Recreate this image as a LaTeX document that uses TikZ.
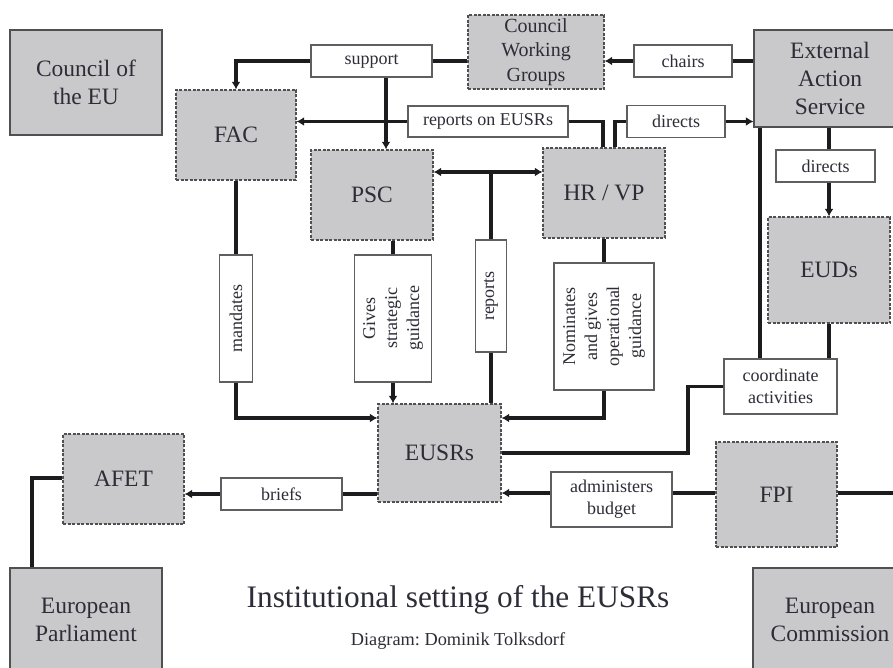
\documentclass[tikz,border=0pt]{standalone}
\usepackage{fontspec}
\setmainfont{Liberation Serif}
\usetikzlibrary{arrows.meta}
\definecolor{boxfill}{RGB}{201,201,203}
\definecolor{boxline}{RGB}{80,80,82}
\definecolor{lblline}{RGB}{95,95,97}
\definecolor{lncol}{RGB}{28,28,30}
\definecolor{txt}{RGB}{45,45,55}
\frenchspacing
\begin{document}
\begin{tikzpicture}[x=1pt,y=-1pt,
  base/.style={fill=boxfill,draw=boxline,line width=1.3pt,inner sep=0pt,align=center,text=txt,font=\fontsize{23.5}{28}\selectfont},
  solidbox/.style={base},
  dashbox/.style={base,dash pattern=on 3pt off 1.5pt},
  lbl/.style={fill=white,draw=lblline,line width=1.1pt,inner sep=0pt,align=center,text=txt,font=\fontsize{18}{22}\selectfont},
  conn/.style={draw=lncol,line width=3.1pt},
  arr/.style={-{Latex[length=7.5pt,width=9pt]}},
  arrboth/.style={{Latex[length=7.5pt,width=9pt]}-{Latex[length=7.5pt,width=9pt]}},
]
\fill[white] (0,0) rectangle (893,668);
\useasboundingbox (0,0) rectangle (893,668);

% main boxes
\node[solidbox,minimum width=152pt,minimum height=105pt] (cou) at (86,82.5) {Council of\\the EU};
\node[dashbox,minimum width=120pt,minimum height=90pt] (fac) at (236,135) {FAC};
\node[dashbox,minimum width=136pt,minimum height=74pt,font=\fontsize{20}{24.5}\selectfont] (cwg) at (536,52) {Council\\Working\\Groups};
\node[solidbox,minimum width=152pt,minimum height=97pt] (eas) at (830,78.5) {External\\Action\\Service};
\node[dashbox,minimum width=122pt,minimum height=90pt] (psc) at (372,195) {PSC};
\node[dashbox,minimum width=122pt,minimum height=90pt] (hrvp) at (604,193) {HR / VP};
\node[dashbox,minimum width=122pt,minimum height=106pt] (euds) at (829,270) {EUDs};
\node[dashbox,minimum width=123pt,minimum height=98pt] (eusrs) at (439.5,453) {EUSRs};
\node[dashbox,minimum width=121pt,minimum height=90pt] (afet) at (123.5,479) {AFET};
\node[dashbox,minimum width=121pt,minimum height=105pt] (fpi) at (776.5,494.5) {FPI};
\node[solidbox,minimum width=152pt,minimum height=104pt] (ep) at (86,620) {European\\Parliament};
\node[solidbox,minimum width=154pt,minimum height=104pt] (ec) at (830,620) {European\\Commission};

% labels
\node[lbl,minimum width=121pt,minimum height=32pt] (sup) at (371.5,61) {support};
\node[lbl,minimum width=98pt,minimum height=32pt] (chairs) at (683,61) {chairs};
\node[lbl,minimum width=160pt,minimum height=31pt] (roe) at (488,121.5) {reports on EUSRs};
\node[lbl,minimum width=98pt,minimum height=32pt] (dir1) at (676,121.5) {directs};
\node[lbl,minimum width=99pt,minimum height=32pt] (dir2) at (825.5,166) {directs};
\node[lbl,rotate=90,minimum width=127pt,minimum height=33pt] (mand) at (236,318.5) {mandates};
\node[lbl,rotate=90,minimum width=127pt,minimum height=77pt] (strat) at (393,318.5) {Gives\\strategic\\guidance};
\node[lbl,rotate=90,minimum width=112pt,minimum height=31pt] (rep) at (491,296) {reports};
\node[lbl,rotate=90,minimum width=127pt,minimum height=100pt] (nom) at (604,326.5) {Nominates\\and gives\\operational\\guidance};
\node[lbl,minimum width=113pt,minimum height=55pt] (coord) at (780.5,386.5) {coordinate\\activities};
\node[lbl,minimum width=121pt,minimum height=32pt] (briefs) at (281.5,494) {briefs};
\node[lbl,minimum width=121pt,minimum height=55pt] (admin) at (611.5,499.5) {administers\\budget};

% title
\node[anchor=base,text=txt,font=\fontsize{31.3}{35}\selectfont] (title) at (458,607) {Institutional setting of the EUSRs};
\node[anchor=base,text=txt,font=\fontsize{18.3}{22}\selectfont] (sub) at (458,645) {Diagram: Dominik Tolksdorf};

% helper coordinates
\coordinate (j1) at (491,172);
\coordinate (yl) at (0,418);
\coordinate (j3) at (688,0);
\coordinate (x760) at (760,0);
\coordinate (yb) at (0,493);
\coordinate (fpiout) at (900,493);
\coordinate (j4) at (32,478);
\coordinate (xsup) at (386,0);
\coordinate (xhr1) at (603,0);
\coordinate (xhr2) at (615,0);

% connectors
\draw[conn] (cwg.west |- sup.east) -- (sup.east);
\draw[conn,arr] (sup.west) -| (fac.north);
\draw[conn,arr] (sup.south -| xsup) -- (psc.north -| xsup);
\draw[conn] (hrvp.north -| xhr1) |- (roe.east);
\draw[conn,arr] (roe.west) -- (roe.west -| fac.east);
\draw[conn] (hrvp.north -| xhr2) |- (dir1.west);
\draw[conn,arr] (dir1.east) -- (dir1.east -| eas.west);
\draw[conn] (eas.west |- chairs.east) -- (chairs.east);
\draw[conn,arr] (chairs.west) -- (chairs.west -| cwg.east);
\draw[conn] (eas.south -| euds.north) -- (dir2.north -| euds.north);
\draw[conn,arr] (dir2.south -| euds.north) -- (euds.north);
\draw[conn,arrboth] (psc.east |- j1) -- (hrvp.west |- j1);
\draw[conn] (j1) -- (rep.east);
\draw[conn] (rep.west) -- (rep.west |- eusrs.north);
\draw[conn] (fac.south) -- (mand.east);
\draw[conn,arr] (mand.west) |- (eusrs.west |- yl);
\draw[conn] (psc.south -| strat.east) -- (strat.east);
\draw[conn,arr] (strat.west) -- (strat.west |- eusrs.north);
\draw[conn] (hrvp.south) -- (nom.east);
\draw[conn,arr] (nom.west) |- (eusrs.east |- yl);
\draw[conn] (eusrs.east) -| (j3 |- coord.west) -- (coord.west);
\draw[conn] (coord.north -| x760) -- (eas.south -| x760);
\draw[conn] (coord.north -| euds.south) -- (euds.south);
\draw[conn] (eusrs.west |- briefs.east) -- (briefs.east);
\draw[conn,arr] (briefs.west) -- (briefs.west -| afet.east);
\draw[conn] (fpi.west |- yb) -- (admin.east |- yb);
\draw[conn,arr] (admin.west |- yb) -- (eusrs.east |- yb);
\draw[conn] (fpi.east |- yb) -- (fpiout);
\draw[conn] (afet.west |- j4) -- (j4) -- (j4 |- ep.north);
\end{tikzpicture}
\end{document}
